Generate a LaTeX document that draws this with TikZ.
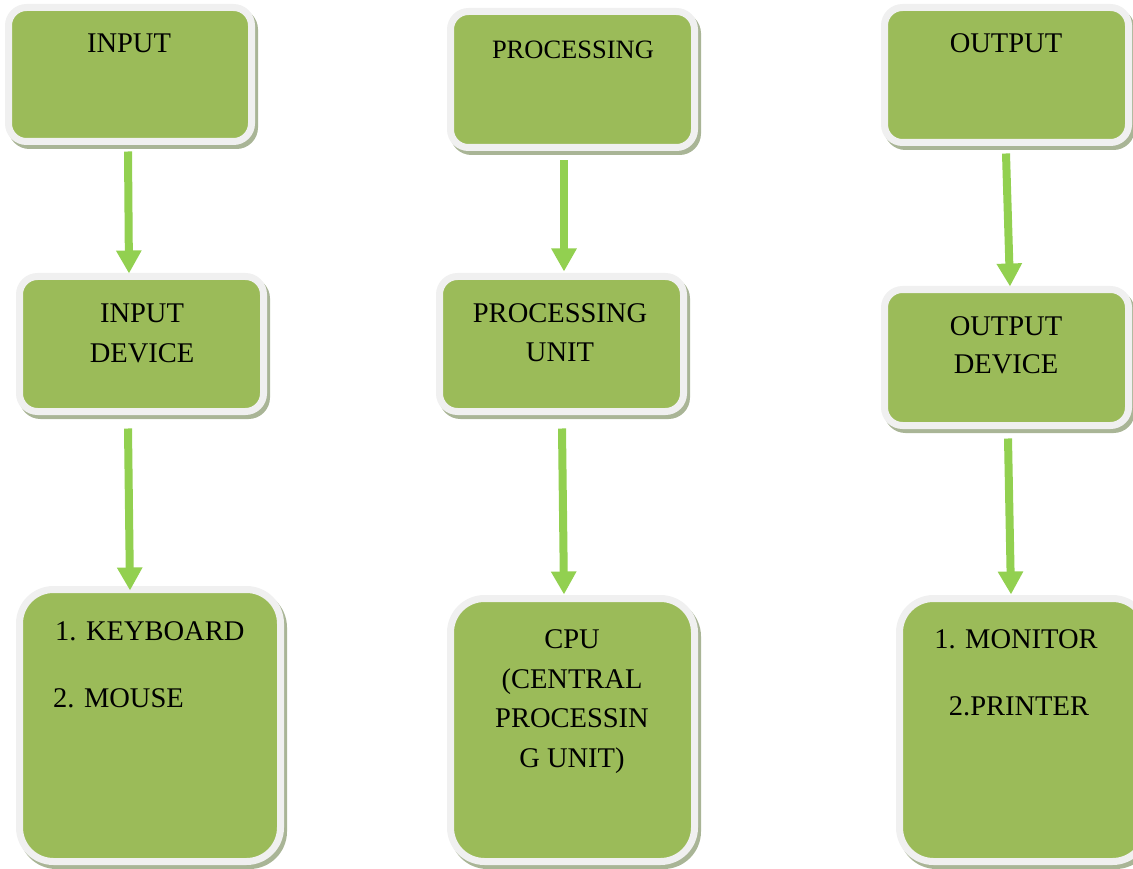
\documentclass[tikz,border=0pt]{standalone}
\usepackage{fontspec}
\setmainfont{Liberation Serif}
\usetikzlibrary{arrows.meta}
\definecolor{boxgreen}{HTML}{9BBB59}
\definecolor{rimgrey}{HTML}{F0F0F0}
\definecolor{shadowgrey}{HTML}{A9B596}
\definecolor{arrowgreen}{HTML}{92D050}
\tikzset{
  gbox/.style={draw=rimgrey, line width=7pt, fill=boxgreen, inner sep=0pt,
    rounded corners=#1,
    preaction={draw=shadowgrey, fill=shadowgrey, line width=7pt,
      transform canvas={shift={(3,4)}}}},
  gbox/.default=18pt,
  lbl/.style={anchor=base, inner sep=0pt, font=\fontsize{28.5}{39}\selectfont, align=center},
  lbll/.style={anchor=base west, inner sep=0pt, font=\fontsize{28.5}{39}\selectfont},
  arr/.style={draw=arrowgreen, line width=8pt,
    -{Triangle[width=24pt,length=23pt]}}
}
\begin{document}
\begin{tikzpicture}[x=1pt,y=-1pt]
\useasboundingbox (0,0) rectangle (1133,869);
% boxes: center, size = outer - 7
\node[gbox, minimum width=243pt, minimum height=134pt] (A) at (130,74.5) {};
\node[gbox, minimum width=244pt, minimum height=135pt] (B) at (141.5,344) {};
\node[gbox=34pt, minimum width=261pt, minimum height=272pt] (C) at (150,725.5) {};
\node[gbox, minimum width=244pt, minimum height=136pt] (D) at (572.5,79.5) {};
\node[gbox, minimum width=244pt, minimum height=135pt] (E) at (561.5,344) {};
\node[gbox=34pt, minimum width=244pt, minimum height=263pt] (F) at (572.5,730) {};
\node[gbox, minimum width=244pt, minimum height=135pt] (G) at (1006.5,75) {};
\node[gbox, minimum width=244pt, minimum height=136pt] (H) at (1006.5,357.5) {};
\node[gbox=34pt, minimum width=247pt, minimum height=263pt] (I) at (1023,730) {};
% arrows
\draw[arr] ([shift={(-2,6.5)}]A.south) -- ([shift={(-12.5,0.5)}]B.north);
\draw[arr] ([shift={(-13.5,13.5)}]B.south) -- ([shift={(-20,4.5)}]C.north);
\draw[arr] ([shift={(-8.5,9.5)}]D.south) -- ([shift={(2.5,-1.5)}]E.north);
\draw[arr] ([shift={(0.5,13.5)}]E.south) -- ([shift={(-8.5,-0.5)}]F.north);
\draw[arr] ([shift={(-0.5,7.5)}]G.south) -- ([shift={(3.5,0.5)}]H.north);
\draw[arr] ([shift={(1.5,9.5)}]H.south) -- ([shift={(-12,-0.5)}]I.north);
% labels
\node[lbl] (tA) at (129,53) {INPUT};
\node[lbl] (tB1) at (142,323) {INPUT};
\node[lbl] (tB2) at (142,362) {DEVICE};
\node[lbll] (tC1) at (55,640) {1. KEYBOARD};
\node[lbll] (tC2) at (53,707) {2. MOUSE};
\node[lbl, font=\fontsize{26.5}{39}\selectfont] (tD) at (573,59) {PROCESSING};
\node[lbl] (tE1) at (560,323) {PROCESSING};
\node[lbl] (tE2) at (560,361) {UNIT};
\node[lbl] (tF1) at (572,648) {CPU};
\node[lbl] (tF2) at (572,688) {(CENTRAL};
\node[lbl] (tF3) at (572,727) {PROCESSIN};
\node[lbl] (tF4) at (572,767) {G UNIT)};
\node[lbl] (tG) at (1006,53) {OUTPUT};
\node[lbl] (tH1) at (1006,335) {OUTPUT};
\node[lbl] (tH2) at (1006,373) {DEVICE};
\node[lbl] (tI1) at (1016,648) {1. MONITOR};
\node[lbl] (tI2) at (1019,715) {2.PRINTER};
\end{tikzpicture}
\end{document}
